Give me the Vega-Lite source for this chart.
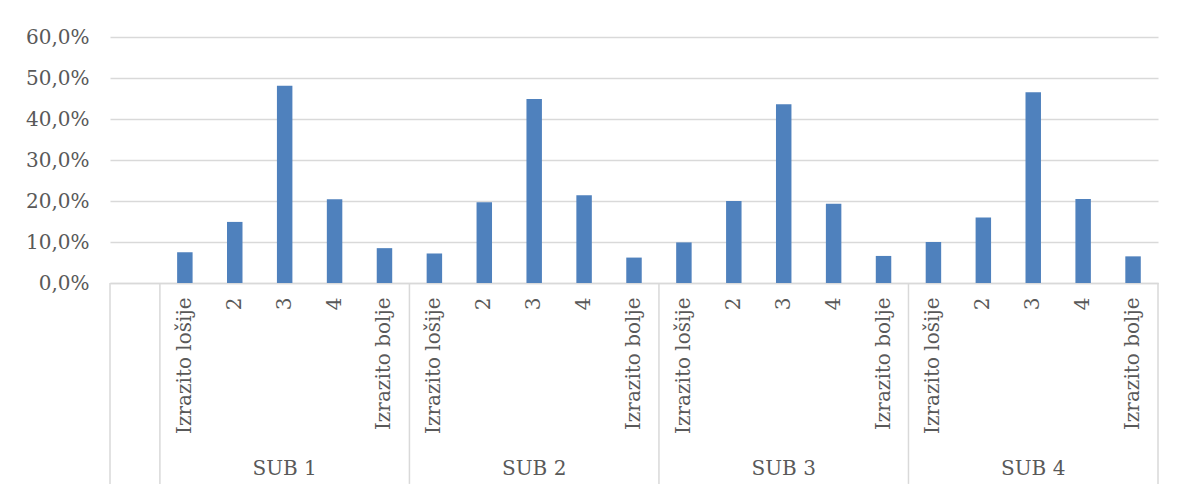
{
  "$schema": "https://vega.github.io/schema/vega-lite/v6.json",
  "width": 1048,
  "height": 246,
  "autosize": "none",
  "padding": {"left": 110, "top": 37, "right": 26, "bottom": 212},
  "background": "white",
  "config": {
    "font": "DejaVu Serif",
    "view": {"stroke": null},
    "axis": {"labelFont": "DejaVu Serif", "labelFontSize": 20, "labelColor": "#595959"}
  },
  "datasets": {
    "bars": [
      {"sub": "SUB 1", "cat": "Izrazito lošije", "key": "SUB 1|Izrazito lošije", "pct": 7.5},
      {"sub": "SUB 1", "cat": "2", "key": "SUB 1|2", "pct": 14.9},
      {"sub": "SUB 1", "cat": "3", "key": "SUB 1|3", "pct": 48.1},
      {"sub": "SUB 1", "cat": "4", "key": "SUB 1|4", "pct": 20.4},
      {"sub": "SUB 1", "cat": "Izrazito bolje", "key": "SUB 1|Izrazito bolje", "pct": 8.5},
      {"sub": "SUB 2", "cat": "Izrazito lošije", "key": "SUB 2|Izrazito lošije", "pct": 7.2},
      {"sub": "SUB 2", "cat": "2", "key": "SUB 2|2", "pct": 19.7},
      {"sub": "SUB 2", "cat": "3", "key": "SUB 2|3", "pct": 44.9},
      {"sub": "SUB 2", "cat": "4", "key": "SUB 2|4", "pct": 21.4},
      {"sub": "SUB 2", "cat": "Izrazito bolje", "key": "SUB 2|Izrazito bolje", "pct": 6.2},
      {"sub": "SUB 3", "cat": "Izrazito lošije", "key": "SUB 3|Izrazito lošije", "pct": 9.9},
      {"sub": "SUB 3", "cat": "2", "key": "SUB 3|2", "pct": 20.0},
      {"sub": "SUB 3", "cat": "3", "key": "SUB 3|3", "pct": 43.6},
      {"sub": "SUB 3", "cat": "4", "key": "SUB 3|4", "pct": 19.3},
      {"sub": "SUB 3", "cat": "Izrazito bolje", "key": "SUB 3|Izrazito bolje", "pct": 6.6},
      {"sub": "SUB 4", "cat": "Izrazito lošije", "key": "SUB 4|Izrazito lošije", "pct": 10.0},
      {"sub": "SUB 4", "cat": "2", "key": "SUB 4|2", "pct": 16.0},
      {"sub": "SUB 4", "cat": "3", "key": "SUB 4|3", "pct": 46.5},
      {"sub": "SUB 4", "cat": "4", "key": "SUB 4|4", "pct": 20.5},
      {"sub": "SUB 4", "cat": "Izrazito bolje", "key": "SUB 4|Izrazito bolje", "pct": 6.5}
    ],
    "groupStarts": [
      {"key": " "},
      {"key": "SUB 1|Izrazito lošije"},
      {"key": "SUB 2|Izrazito lošije"},
      {"key": "SUB 3|Izrazito lošije"},
      {"key": "SUB 4|Izrazito lošije"}
    ],
    "groupEnd": [
      {"key": "SUB 4|Izrazito bolje"}
    ],
    "groups": [
      {"sub": "SUB 1", "key": "SUB 1|3"},
      {"sub": "SUB 2", "key": "SUB 2|3"},
      {"sub": "SUB 3", "key": "SUB 3|3"},
      {"sub": "SUB 4", "key": "SUB 4|3"}
    ]
  },
  "layer": [
    {
      "data": {"name": "bars"},
      "mark": {"type": "bar", "color": "#4f81bd", "width": {"band": 0.31}},
      "encoding": {
        "x": {
          "field": "key",
          "type": "nominal",
          "sort": null,
          "scale": {
            "domain": [" ", "SUB 1|Izrazito lošije", "SUB 1|2", "SUB 1|3", "SUB 1|4", "SUB 1|Izrazito bolje",
              "SUB 2|Izrazito lošije", "SUB 2|2", "SUB 2|3", "SUB 2|4", "SUB 2|Izrazito bolje",
              "SUB 3|Izrazito lošije", "SUB 3|2", "SUB 3|3", "SUB 3|4", "SUB 3|Izrazito bolje",
              "SUB 4|Izrazito lošije", "SUB 4|2", "SUB 4|3", "SUB 4|4", "SUB 4|Izrazito bolje"],
            "paddingInner": 0,
            "paddingOuter": 0
          },
          "axis": {
            "title": null,
            "labelAngle": -90,
            "labelAlign": "right",
            "labelBaseline": "middle",
            "labelPadding": 14,
            "labelExpr": "indexof(datum.value, '|') > 0 ? split(datum.value, '|')[1] : ''",
            "ticks": false,
            "grid": false,
            "domainColor": "#d9d9d9",
            "domainWidth": 1.5
          }
        },
        "y": {
          "field": "pct",
          "type": "quantitative",
          "scale": {"domain": [0, 60], "nice": false, "zero": true},
          "axis": {
            "title": null,
            "values": [0, 10, 20, 30, 40, 50, 60],
            "labelExpr": "replace(format(datum.value, '.1f'), '.', ',') + '%'",
            "labelPadding": 21,
            "ticks": false,
            "domain": false,
            "grid": true,
            "gridColor": "#d9d9d9",
            "gridWidth": 1.5
          }
        }
      }
    },
    {
      "data": {"name": "groupStarts"},
      "mark": {"type": "rule", "color": "#d9d9d9", "strokeWidth": 1.5, "clip": false},
      "encoding": {
        "x": {"field": "key", "type": "nominal", "sort": null, "bandPosition": 0},
        "y": {"datum": 0},
        "y2": {"datum": -49}
      }
    },
    {
      "data": {"name": "groupEnd"},
      "mark": {"type": "rule", "color": "#d9d9d9", "strokeWidth": 1.5, "clip": false},
      "encoding": {
        "x": {"field": "key", "type": "nominal", "sort": null, "bandPosition": 1},
        "y": {"datum": 0},
        "y2": {"datum": -49}
      }
    },
    {
      "data": {"name": "groups"},
      "mark": {"type": "text", "font": "DejaVu Serif", "fontSize": 20, "color": "#595959", "baseline": "middle", "align": "center", "clip": false},
      "encoding": {
        "x": {"field": "key", "type": "nominal", "sort": null, "bandPosition": 0.5},
        "y": {"datum": -45.4},
        "text": {"field": "sub"}
      }
    }
  ]
}
